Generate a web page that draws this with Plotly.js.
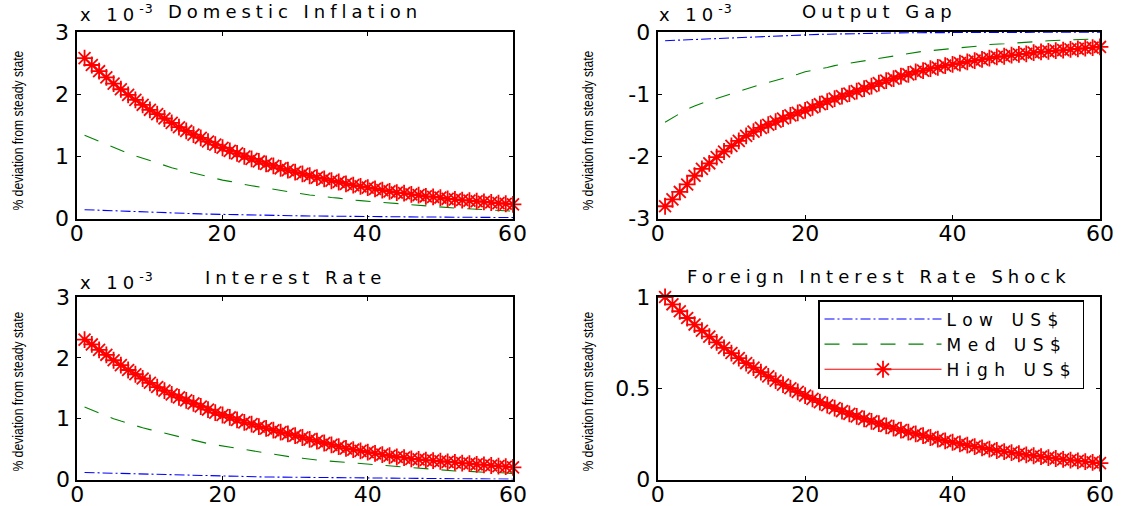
<!DOCTYPE html>
<html><head><meta charset="utf-8">
<script src="https://cdn.plot.ly/plotly-3.0.1.min.js"></script>
<style>
html,body{margin:0;padding:0;background:#fff;}
#chart{width:1131px;height:506px;}
text.annotation-text{letter-spacing:5px;}
text.annotation-text tspan[style*="70%"]{letter-spacing:1px;}
text.annotation-text[data-unformatted^="%"]{letter-spacing:0px;}
.xtick text,.ytick text{letter-spacing:1px;}
text.legendtext{letter-spacing:6.5px;}
</style></head><body><div id="chart"></div>
<script>
// Periods after the shock
const periods = [1,2,3,4,5,6,7,8,9,10,11,12,13,14,15,16,17,18,19,20,
  21,22,23,24,25,26,27,28,29,30,31,32,33,34,35,36,37,38,39,40,
  41,42,43,44,45,46,47,48,49,50,51,52,53,54,55,56,57,58,59,60];

// Domestic Inflation (x 10^-3)
const inflLow = [0.145,0.14,0.135,0.13,0.125,0.12,0.115,0.11,0.105,0.10,
  0.097,0.094,0.09,0.087,0.084,0.08,0.077,0.074,0.071,0.068,
  0.065,0.062,0.06,0.058,0.056,0.054,0.052,0.05,0.048,0.046,
  0.045,0.044,0.042,0.041,0.04,0.039,0.038,0.037,0.036,0.035,
  0.034,0.033,0.032,0.031,0.03,0.029,0.026,0.022,0.021,0.021,
  0.02,0.02,0.02,0.02,0.019,0.019,0.019,0.018,0.018,0.018];
const inflMed = [1.34,1.29,1.24,1.19,1.14,1.09,1.05,1.01,0.97,0.93,
  0.89,0.86,0.82,0.79,0.76,0.73,0.70,0.67,0.65,0.62,
  0.60,0.57,0.55,0.53,0.51,0.49,0.47,0.45,0.43,0.42,
  0.40,0.38,0.37,0.35,0.34,0.33,0.31,0.30,0.29,0.28,
  0.27,0.26,0.25,0.24,0.23,0.22,0.21,0.20,0.19,0.185,
  0.18,0.17,0.165,0.16,0.15,0.145,0.14,0.13,0.125,0.12];
const inflHigh = [2.58,2.47,2.37,2.27,2.17,2.08,1.99,1.91,1.83,1.75,
  1.68,1.61,1.54,1.47,1.41,1.35,1.30,1.24,1.19,1.14,
  1.09,1.05,1.00,0.96,0.92,0.88,0.85,0.81,0.78,0.75,
  0.72,0.69,0.66,0.64,0.61,0.59,0.56,0.54,0.52,0.50,
  0.48,0.46,0.44,0.42,0.41,0.39,0.38,0.36,0.35,0.34,
  0.32,0.31,0.30,0.29,0.28,0.27,0.26,0.25,0.24,0.23];

// Output Gap (x 10^-3)
const gapLow = [-0.14,-0.135,-0.13,-0.125,-0.12,-0.11,-0.105,-0.10,-0.09,-0.085,
  -0.08,-0.075,-0.07,-0.065,-0.06,-0.056,-0.053,-0.05,-0.046,-0.043,
  -0.04,-0.037,-0.035,-0.032,-0.03,-0.027,-0.025,-0.023,-0.021,-0.019,
  -0.017,-0.015,-0.013,-0.012,-0.011,-0.01,-0.009,-0.009,-0.008,-0.008,
  -0.007,-0.007,-0.007,-0.006,-0.006,-0.006,-0.006,-0.005,-0.005,-0.005,
  -0.005,-0.005,-0.004,-0.004,-0.004,-0.004,-0.004,-0.004,-0.004,-0.004];
const gapMed = [-1.45,-1.38,-1.31,-1.24,-1.19,-1.14,-1.10,-1.07,-1.03,-1.00,
  -0.96,-0.92,-0.88,-0.84,-0.81,-0.78,-0.75,-0.72,-0.68,-0.64,
  -0.62,-0.60,-0.57,-0.54,-0.52,-0.50,-0.48,-0.46,-0.44,-0.42,
  -0.41,-0.39,-0.37,-0.35,-0.33,-0.31,-0.30,-0.29,-0.28,-0.27,
  -0.26,-0.24,-0.23,-0.22,-0.20,-0.20,-0.19,-0.18,-0.175,-0.17,
  -0.16,-0.15,-0.14,-0.13,-0.13,-0.125,-0.12,-0.12,-0.115,-0.11];
const gapHigh = [-2.80,-2.69,-2.57,-2.45,-2.31,-2.20,-2.11,-2.01,-1.92,-1.83,
  -1.75,-1.67,-1.60,-1.54,-1.49,-1.44,-1.39,-1.34,-1.30,-1.26,
  -1.21,-1.16,-1.12,-1.07,-1.03,-0.99,-0.95,-0.91,-0.87,-0.82,
  -0.78,-0.75,-0.71,-0.68,-0.64,-0.62,-0.59,-0.57,-0.54,-0.52,
  -0.50,-0.48,-0.46,-0.44,-0.42,-0.40,-0.39,-0.37,-0.36,-0.35,
  -0.33,-0.32,-0.31,-0.30,-0.29,-0.28,-0.27,-0.26,-0.25,-0.24];

// Interest Rate (x 10^-3)
const rateLow = [0.115,0.112,0.108,0.104,0.10,0.096,0.092,0.088,0.084,0.08,
  0.076,0.073,0.07,0.067,0.064,0.061,0.058,0.055,0.053,0.051,
  0.049,0.047,0.045,0.043,0.042,0.041,0.04,0.038,0.036,0.035,
  0.034,0.033,0.032,0.031,0.03,0.029,0.028,0.028,0.027,0.026,
  0.025,0.024,0.023,0.022,0.02,0.016,0.013,0.011,0.01,0.009,
  0.008,0.008,0.007,0.007,0.006,0.006,0.006,0.005,0.005,0.005];
const rateMed = [1.19,1.14,1.09,1.05,1.00,0.96,0.92,0.89,0.85,0.82,
  0.79,0.76,0.73,0.70,0.67,0.64,0.62,0.59,0.57,0.55,
  0.53,0.51,0.49,0.47,0.45,0.43,0.41,0.39,0.37,0.36,
  0.35,0.33,0.32,0.31,0.30,0.29,0.28,0.27,0.26,0.25,
  0.24,0.23,0.22,0.21,0.20,0.19,0.18,0.18,0.17,0.16,
  0.15,0.14,0.14,0.13,0.13,0.12,0.12,0.11,0.11,0.10];
const rateHigh = [2.30,2.22,2.13,2.05,1.96,1.88,1.80,1.73,1.66,1.59,
  1.52,1.46,1.40,1.35,1.30,1.25,1.20,1.15,1.10,1.06,
  1.02,0.98,0.94,0.91,0.87,0.84,0.81,0.78,0.75,0.72,
  0.69,0.66,0.63,0.60,0.57,0.54,0.51,0.49,0.47,0.45,
  0.43,0.41,0.39,0.37,0.36,0.34,0.33,0.32,0.31,0.30,
  0.29,0.28,0.27,0.26,0.25,0.24,0.23,0.22,0.21,0.20];

// Foreign Interest Rate Shock (same path under all three regimes)
const shockLow = [1.000,0.960,0.922,0.885,0.849,0.815,0.783,0.751,0.721,0.693,
  0.665,0.638,0.613,0.588,0.565,0.542,0.520,0.500,0.480,0.460,
  0.442,0.424,0.407,0.391,0.375,0.360,0.346,0.332,0.319,0.306,
  0.294,0.282,0.271,0.260,0.250,0.240,0.230,0.221,0.212,0.204,
  0.195,0.188,0.180,0.173,0.166,0.159,0.153,0.147,0.141,0.135,
  0.130,0.125,0.120,0.115,0.110,0.106,0.102,0.098,0.094,0.090];
const shockMed = shockLow;
const shockHigh = shockLow;

const seriesNames = ["Low US$", "Med US$", "High US$"];
const panelTitles = ["Domestic Inflation", "Output Gap", "Interest Rate", "Foreign Interest Rate Shock"];
const yLabel = "% deviation from steady state";
const multiplier = "x 10<sup>-3</sup>";
const xTicks = [0, 20, 40, 60];
const yTicksRate = [0, 1, 2, 3];
const yTicksGap = [-3, -2, -1, 0];
const yTickTextGap = ["-3", "-2", "-1", "0"];
const yTicksShock = [0, 0.5, 1];

const W = 1131, H = 506;
const fx = p => p / W, fy = p => 1 - p / H;
const colL = [fx(77.3), fx(513)], colR = [fx(657.7), fx(1100)];
const rowT = [fy(218.7), fy(32)], rowB = [fy(479.5), fy(297)];

const styles = [
  {color: "#0000ff", width: 1.1, dash: "10px,3px,2px,3px", mode: "lines"},
  {color: "#008000", width: 1.1, dash: "15px,13px", mode: "lines"},
  {color: "#ff0000", width: 1.2, dash: "solid", mode: "lines+markers"}
];

const panels = [
  {data: [inflLow, inflMed, inflHigh], ax: ""},
  {data: [gapLow, gapMed, gapHigh], ax: "2"},
  {data: [rateLow, rateMed, rateHigh], ax: "3"},
  {data: [shockLow, shockMed, shockHigh], ax: "4"}
];

const traces = [];
panels.forEach((p, pi) => {
  p.data.forEach((ys, si) => {
    const s = styles[si];
    traces.push({
      x: periods, y: ys, type: "scatter", mode: s.mode,
      name: seriesNames[si], showlegend: pi === 3,
      xaxis: "x" + p.ax, yaxis: "y" + p.ax,
      line: {color: s.color, width: s.width, dash: s.dash},
      marker: {symbol: "asterisk-open", size: 14, color: s.color, line: {color: s.color, width: 1.8}},
      cliponaxis: false, hoverinfo: "skip"
    });
  });
});

const tickFont = {family: "DejaVu Sans", size: 22, color: "#000"};
function xax(dom, anchor) {
  return {domain: dom, anchor: anchor, range: [0, 60], tickvals: xTicks,
    showgrid: false, zeroline: false, showline: true, linecolor: "#000", linewidth: 2,
    mirror: "allticks", ticks: "inside", ticklen: 4, tickwidth: 1, tickcolor: "#000",
    tickfont: tickFont, ticklabelstandoff: -6, fixedrange: true};
}
function yax(dom, anchor, range, tv, tt) {
  const a = {domain: dom, anchor: anchor, range: range, tickvals: tv,
    showgrid: false, zeroline: false, showline: true, linecolor: "#000", linewidth: 2,
    mirror: "allticks", ticks: "inside", ticklen: 4, tickwidth: 1, tickcolor: "#000",
    tickfont: tickFont, ticklabelstandoff: 1, fixedrange: true};
  if (tt) a.ticktext = tt;
  return a;
}

const titleFont = {family: "DejaVu Sans", size: 18, color: "#000"};
const ylabFont = {family: "Liberation Sans", size: 15, color: "#000"};
const annotations = [
  {text: panelTitles[0], x: fx(295), y: fy(12)},
  {text: panelTitles[1], x: fx(879), y: fy(12)},
  {text: panelTitles[2], x: fx(295), y: fy(277)},
  {text: panelTitles[3], x: fx(879), y: fy(276)}
].map(a => Object.assign(a, {xref: "paper", yref: "paper", showarrow: false,
  xanchor: "center", yanchor: "middle", font: titleFont}));
[[78, 27], [657, 27], [78, 295]].forEach(([x, y]) => annotations.push({
  text: multiplier, x: fx(x), y: fy(y), xref: "paper", yref: "paper", showarrow: false,
  xanchor: "left", yanchor: "bottom", font: titleFont}));
[[17, 131], [587, 131], [17, 392], [587, 392]].forEach(([x, y]) => annotations.push({
  text: yLabel, x: fx(x), y: fy(y), xref: "paper", yref: "paper", showarrow: false,
  textangle: -90, xanchor: "center", yanchor: "middle", font: ylabFont}));

const layout = {
  width: W, height: H, margin: {l: 0, r: 0, t: 0, b: 0},
  paper_bgcolor: "#fff", plot_bgcolor: "#fff",
  showlegend: true,
  legend: {x: fx(818), y: fy(300), xanchor: "left", yanchor: "top",
    bgcolor: "#fff", bordercolor: "#000", borderwidth: 1.5,
    font: {family: "DejaVu Sans", size: 17, color: "#000"}, itemwidth: 117,
    tracegroupgap: 0},
  xaxis: xax(colL, "y"), yaxis: yax(rowT, "x", [0, 3], yTicksRate),
  xaxis2: xax(colR, "y2"), yaxis2: yax(rowT, "x2", [-3, 0], yTicksGap, yTickTextGap),
  xaxis3: xax(colL, "y3"), yaxis3: yax(rowB, "x3", [0, 3], yTicksRate),
  xaxis4: xax(colR, "y4"), yaxis4: yax(rowB, "x4", [0, 1], yTicksShock),
  annotations: annotations
};

Plotly.newPlot("chart", traces, layout, {displayModeBar: false, staticPlot: true}).then(() => {
  // condense the rotated y labels to their measured length
  document.querySelectorAll("text.annotation-text").forEach(t => {
    if ((t.getAttribute("data-unformatted") || "").indexOf("%") === 0) {
      t.setAttribute("textLength", "160");
      t.setAttribute("lengthAdjust", "spacingAndGlyphs");
    }
  });
});
</script></body></html>
